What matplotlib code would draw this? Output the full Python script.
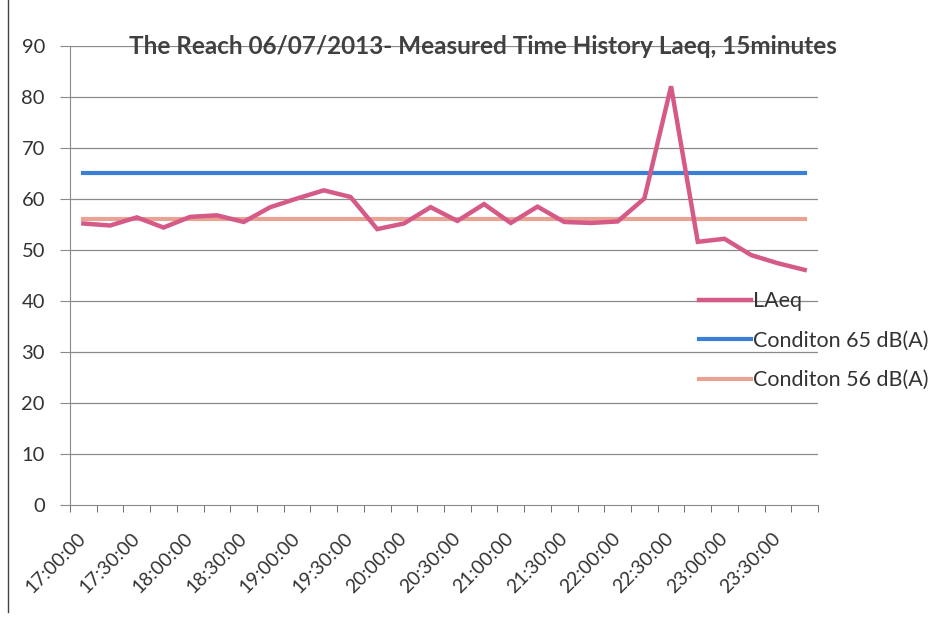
import matplotlib
matplotlib.use("Agg")
import matplotlib.pyplot as plt
from matplotlib.lines import Line2D
import matplotlib.transforms as mtransforms
import numpy as np

plt.rcParams['font.family'] = ['Lato', 'DejaVu Sans']

times = ["17:00:00", "17:15:00", "17:30:00", "17:45:00", "18:00:00", "18:15:00",
         "18:30:00", "18:45:00", "19:00:00", "19:15:00", "19:30:00", "19:45:00",
         "20:00:00", "20:15:00", "20:30:00", "20:45:00", "21:00:00", "21:15:00",
         "21:30:00", "21:45:00", "22:00:00", "22:15:00", "22:30:00", "22:45:00",
         "23:00:00", "23:15:00", "23:30:00", "23:45:00"]
laeq = [55.2, 54.8, 56.4, 54.4, 56.5, 56.8, 55.5, 58.4, 60.1, 61.7, 60.4, 54.1,
        55.2, 58.4, 55.7, 59.0, 55.3, 58.5, 55.5, 55.3, 55.6, 60.1, 82.1, 51.6,
        52.2, 49.0, 47.4, 46.1]
cond65 = [65] * len(times)
cond56 = [56] * len(times)

title = "The Reach 06/07/2013- Measured Time History Laeq, 15minutes"

fig = plt.figure(figsize=(9.49, 6.17), dpi=100)
ax = fig.add_axes([70/949, 1-505/617, (818-70)/949, (505-46)/617])

x = np.arange(len(times))
grid_c = '#8a8a8a'
for yv in range(10, 100, 10):
    ax.axhline(yv, color=grid_c, lw=0.9, zorder=0)

l1, = ax.plot(x, laeq, color='#d55a87', lw=3.2, solid_joinstyle='miter', zorder=3)
l2, = ax.plot(x, cond65, color='#3b7fd4', lw=3.0, zorder=2)
l3, = ax.plot(x, cond56, color='#e9a393', lw=3.0, zorder=2)

ax.set_xlim(-0.5, len(times) - 0.5)
ax.set_ylim(0, 90)
ax.set_yticks(range(0, 100, 10))
ax.tick_params(axis='y', direction='out', length=7, color=grid_c, labelsize=14.5,
               labelcolor='#333333', pad=11)

ax.set_xticks(x[::2])
ax.set_xticklabels(times[::2], rotation=45, ha='right', va='top',
                   rotation_mode='anchor', fontsize=13.9, color='#333333')
ax.tick_params(axis='x', which='major', length=0, pad=9)
offset = mtransforms.ScaledTranslation(-6/100, -12/100, fig.dpi_scale_trans)
for lab in ax.get_xticklabels():
    lab.set_transform(lab.get_transform() + offset)
ax.set_xticks(np.arange(-0.5, len(times), 1.0), minor=True)
ax.tick_params(axis='x', which='minor', direction='out', length=5, color='#555555')

for s in ['top', 'right']:
    ax.spines[s].set_visible(False)
ax.spines['left'].set_color(grid_c)
ax.spines['bottom'].set_color(grid_c)

fig.text(483/949, 1-46/617, title, ha='center', va='center', fontsize=17.5,
         fontweight='bold', color='#404040')

leg = fig.legend([l1, l2, l3], ["LAeq", "Conditon 65 dB(A)", "Conditon 56 dB(A)"],
                 loc='upper left', bbox_to_anchor=(680/949, 1-272/617),
                 frameon=False, fontsize=15.5, handlelength=2.4, handletextpad=0.1,
                 labelspacing=0.9, labelcolor='#333333')

fig.add_artist(Line2D([8/949, 8/949], [1-612/617, 1.0], color='#444444', lw=1.0))

fig.savefig('out.png', dpi=100, facecolor='white')
